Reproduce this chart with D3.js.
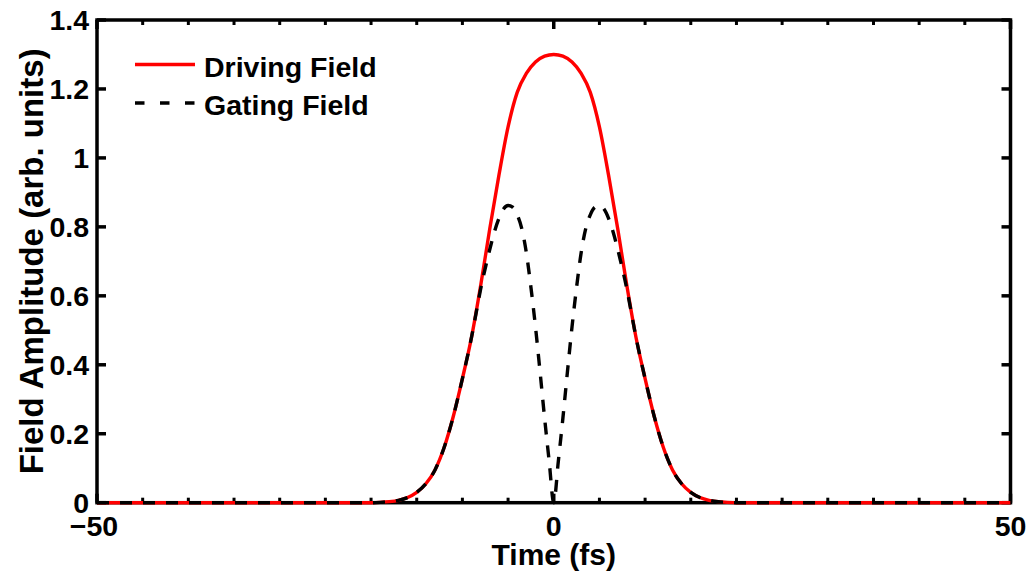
<!DOCTYPE html>
<html>
<head>
<meta charset="utf-8">
<script src="https://cdn.jsdelivr.net/npm/d3@7"></script>
<style>
  html, body { margin: 0; padding: 0; background: #fff; }
  svg { display: block; }
  text { font-family: "Liberation Sans", Arial, sans-serif; font-weight: bold; fill: #000; }
</style>
</head>
<body>
<svg id="chart" width="1027" height="571"></svg>
<script>
// ---- data ----
const drivingTime = [-50,-20,-19,-18,-17,-16,-15,-14,-13,-12,-11,-10,-9,-8,-7,-6,-5,-4,-3,-2,-1,0,
  1,2,3,4,5,6,7,8,9,10,11,12,13,14,15,16,17,18,19,20,50];
const drivingField = [0,0,0.001,0.003,0.007,0.015,0.030,0.055,0.095,0.160,0.250,0.360,0.480,0.630,0.795,0.950,1.090,1.190,1.245,1.278,1.295,1.300,
  1.295,1.278,1.245,1.190,1.090,0.950,0.795,0.630,0.480,0.360,0.250,0.160,0.095,0.055,0.030,0.015,0.007,0.003,0.001,0,0];

const gatingTime = [-50,-20,-19,-18,-17,-16,-15,-14,-13,-12,-11,-10,-9,
  -8.5,-8,-7.5,-7,-6.5,-6,-5.5,-5,-4.5,-4,-3.5,-3,-2.5,-2,-1.5,-1,-0.5,0,
  0.5,1,1.5,2,2.5,3,3.5,4,4.5,5,5.5,6,6.5,7,7.5,8,8.5,
  9,10,11,12,13,14,15,16,17,18,19,20,50];
const gatingField = [0,0,0.001,0.003,0.007,0.015,0.030,0.055,0.095,0.160,0.250,0.360,0.480,
  0.550,0.620,0.680,0.735,0.785,0.825,0.852,0.862,0.857,0.835,0.795,0.725,0.625,0.510,0.380,0.245,0.120,0,
  0.120,0.245,0.380,0.510,0.625,0.725,0.795,0.835,0.857,0.862,0.852,0.825,0.785,0.735,0.680,0.620,0.550,
  0.480,0.360,0.250,0.160,0.095,0.055,0.030,0.015,0.007,0.003,0.001,0,0];

const xMajorTicks = [-50, 0, 50];
const xTickLabels = ["\u221250", "0", "50"];
const xMinorTicks = [-45,-40,-35,-30,-25,-20,-15,-10,-5,5,10,15,20,25,30,35,40,45];
const yTicks = [0, 0.2, 0.4, 0.6, 0.8, 1, 1.2, 1.4];
const yTickLabels = ["0", "0.2", "0.4", "0.6", "0.8", "1", "1.2", "1.4"];
const seriesNames = ["Driving Field", "Gating Field"];
const xLabel = "Time (fs)";
const yLabel = "Field Amplitude (arb. units)";

// ---- layout ----
const L = 97, R = 1010.5, T = 20, B = 502.7;
const svg = d3.select("#chart");
const x = d3.scaleLinear().domain([-50, 50]).range([L, R]);
const y = d3.scaleLinear().domain([0, 1.4]).range([B, T]);

const axW = 3.5, majorLen = 9, minorLen = 5, fs = 28.5, lfs = 30;

// axes box
const axes = svg.append("g");
const g = axes.append("g").attr("stroke", "#000").attr("stroke-width", axW);
xMajorTicks.forEach(v => {
  g.append("line").attr("x1", x(v)).attr("x2", x(v)).attr("y1", B).attr("y2", B - majorLen);
  g.append("line").attr("x1", x(v)).attr("x2", x(v)).attr("y1", T).attr("y2", T + majorLen);
});
xMinorTicks.forEach(v => {
  g.append("line").attr("x1", x(v)).attr("x2", x(v)).attr("y1", B).attr("y2", B - minorLen).attr("stroke-width", 3);
  g.append("line").attr("x1", x(v)).attr("x2", x(v)).attr("y1", T).attr("y2", T + minorLen).attr("stroke-width", 3);
});
yTicks.forEach(v => {
  g.append("line").attr("x1", L).attr("x2", L + majorLen).attr("y1", y(v)).attr("y2", y(v));
  g.append("line").attr("x1", R).attr("x2", R - majorLen).attr("y1", y(v)).attr("y2", y(v));
});
axes.append("rect").attr("x", L).attr("y", T).attr("width", R - L).attr("height", B - T)
  .attr("fill", "none").attr("stroke", "#000").attr("stroke-width", axW);

// tick labels
xMajorTicks.forEach((v, i) => {
  axes.append("text").attr("x", x(v) - (i === 0 ? 3 : 0)).attr("y", 536)
    .attr("text-anchor", "middle").attr("font-size", fs).text(xTickLabels[i]);
});
yTicks.forEach((v, i) => {
  axes.append("text").attr("x", 89).attr("y", y(v)).attr("dy", "0.36em")
    .attr("text-anchor", "end").attr("font-size", fs).text(yTickLabels[i]);
});

// axis labels
svg.append("text").attr("x", (L + R) / 2).attr("y", 565).attr("text-anchor", "middle")
  .attr("font-size", lfs).text(xLabel);
svg.append("text").attr("transform", `translate(43,${(T + B) / 2}) rotate(-90)`)
  .attr("text-anchor", "middle").attr("font-size", 33).text(yLabel);

// lines
const lineGen = d3.line().x(d => x(d[0])).y(d => y(d[1])).curve(d3.curveMonotoneX);
const drivingData = drivingTime.map((t, i) => [t, drivingField[i]]);
const gatingData = gatingTime.map((t, i) => [t, gatingField[i]]);

svg.append("path").attr("d", lineGen(drivingData)).attr("fill", "none")
  .attr("stroke", "#ff0000").attr("stroke-width", 3.4);
svg.append("path").attr("d", lineGen(gatingData)).attr("fill", "none")
  .attr("stroke", "#000").attr("stroke-width", 3.4).attr("stroke-dasharray", "12,11");

// legend
const leg = svg.append("g");
leg.append("line").attr("x1", 135).attr("x2", 195).attr("y1", 64.5).attr("y2", 64.5)
  .attr("stroke", "#ff0000").attr("stroke-width", 3.4);
leg.append("line").attr("x1", 135).attr("x2", 195).attr("y1", 103).attr("y2", 103)
  .attr("stroke", "#000").attr("stroke-width", 3.4).attr("stroke-dasharray", "9.5,15.5");
leg.append("text").attr("x", 204).attr("y", 77).attr("font-size", fs).text(seriesNames[0]);
leg.append("text").attr("x", 204).attr("y", 115).attr("font-size", fs).text(seriesNames[1]);
</script>
</body>
</html>
